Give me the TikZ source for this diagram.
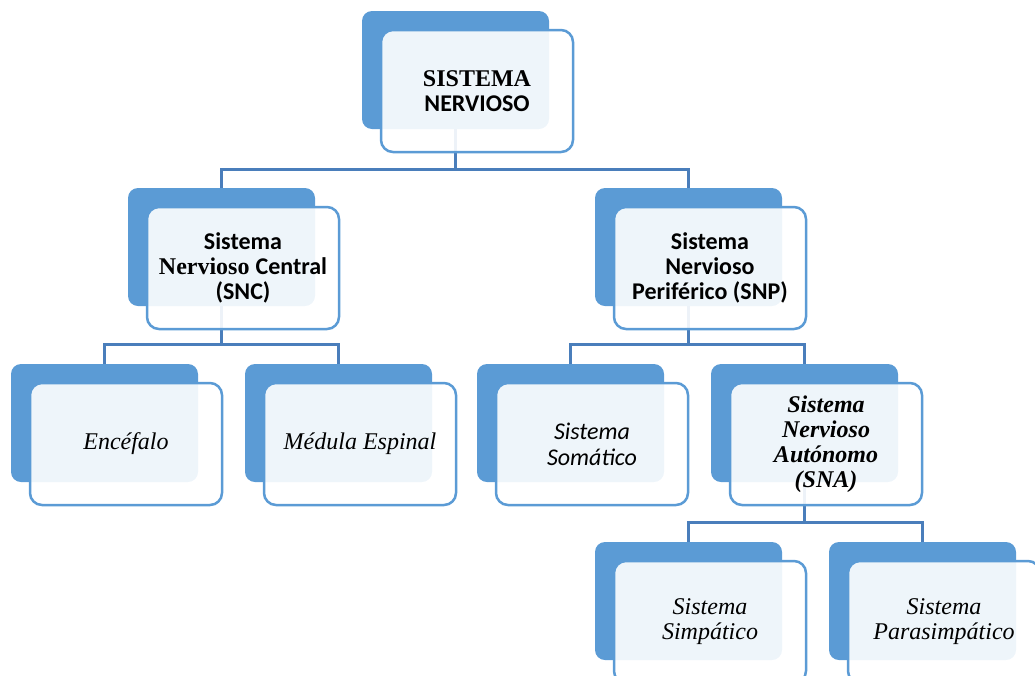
\documentclass[tikz,border=0pt]{standalone}
\usepackage{fontspec}
\setmainfont{Liberation Serif}
\newfontfamily\calib{Carlito}
\usetikzlibrary{backgrounds}
\definecolor{accent}{HTML}{5B9BD5}
\definecolor{linkblue}{HTML}{4A7EBB}
\tikzset{
  backbox/.style={fill=accent, rounded corners=10pt, minimum width=187pt,
    minimum height=118pt, inner sep=0pt, outer sep=0pt, anchor=north west},
  frontbox/.style={draw=accent, line width=2.5pt, fill=white, fill opacity=0.9,
    text opacity=1, rounded corners=12pt, minimum width=192pt, minimum height=122pt,
    inner sep=0pt, outer sep=0pt, anchor=north west, align=center,
    font=\fontsize{24}{25}\selectfont},
  sansbold/.style={font=\fontsize{24}{25}\selectfont\calib\bfseries},
  sansital/.style={font=\fontsize{24}{26}\selectfont\calib\itshape},
  serifital/.style={font=\fontsize{24}{25}\selectfont\itshape},
  serifboldital/.style={font=\fontsize{24}{25}\selectfont\bfseries\itshape},
  link/.style={draw=linkblue, line width=3pt},
}
% one entry of the chart: solid tab behind, translucent card in front
\newcommand\orgunit[5][]{%
  \node[backbox] (#2-b) at (#3,#4) {};
  \node[frontbox,#1] (#2) at (#3+19,#4+19) {#5};
}
\begin{document}
\begin{tikzpicture}[x=1pt,y=-1pt]
  \useasboundingbox (0,0) rectangle (1035,675);
  \clip (0,0) rectangle (1035,675);

  \orgunit{top}{362}{11}{{\bfseries SISTEMA}\\{\calib\bfseries NERVIOSO}}
  \orgunit{snc}{128}{188}{{\calib\bfseries Sistema}\\{\bfseries Nervioso} {\calib\bfseries Central}\\{\calib\bfseries (SNC)}}
  \orgunit[sansbold]{snp}{595}{188}{Sistema\\Nervioso\\Periférico (SNP)}
  \orgunit[serifital]{enc}{11}{364}{Encéfalo}
  \orgunit[serifital]{med}{245}{364}{Médula Espinal}
  \orgunit[sansital]{som}{477}{364}{Sistema\\Somático}
  \orgunit[serifboldital]{sna}{711}{364}{Sistema\\Nervioso\\Autónomo\\(SNA)}
  \orgunit[serifital]{simp}{595}{542}{Sistema\\Simpático}
  \orgunit[serifital]{para}{829}{542}{Sistema\\Parasimpático}

  \begin{scope}[on background layer]
    \path (top-b.south) ++(0,40) coordinate (bus1);
    \draw[link] (top-b.south) -- (bus1) -| (snc-b.north);
    \draw[link] (bus1) -| (snp-b.north);

    \path (snc-b.south) ++(0,38) coordinate (bus2);
    \draw[link] (snc-b.south) -- (bus2) -| (enc-b.north);
    \draw[link] (bus2) -| (med-b.north);

    \path (snp-b.south) ++(0,38) coordinate (bus3);
    \draw[link] (snp-b.south) -- (bus3) -| (som-b.north);
    \draw[link] (bus3) -| (sna-b.north);

    \path (sna-b.south) ++(0,40) coordinate (bus4);
    \draw[link] (sna-b.south) -- (bus4) -| (simp-b.north);
    \draw[link] (bus4) -| (para-b.north);
  \end{scope}
\end{tikzpicture}
\end{document}
